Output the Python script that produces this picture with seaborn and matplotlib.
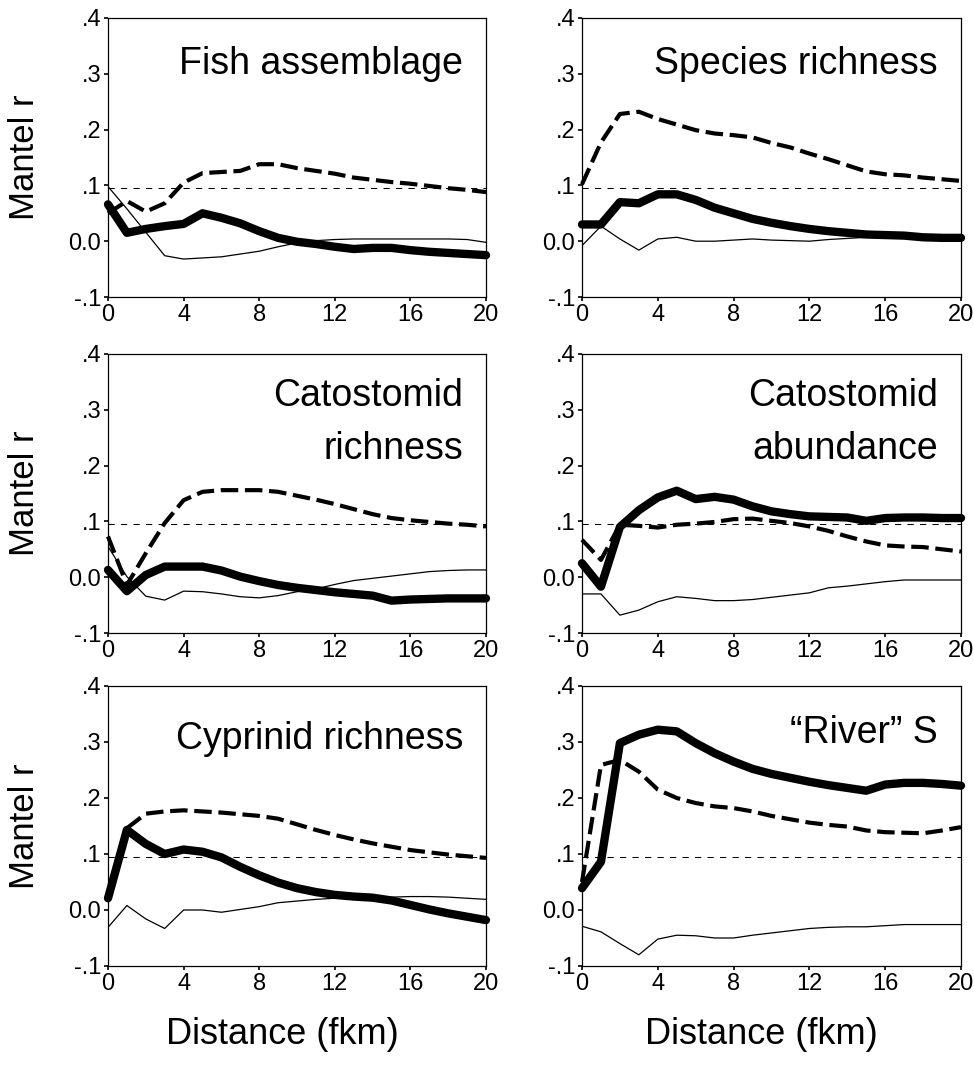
import matplotlib
matplotlib.use("Agg")
import matplotlib.pyplot as plt
import numpy as np
import pandas as pd
import seaborn as sns

# ---------------- data ----------------
distance_km = list(range(21))
critical_r = 0.095

panel_titles = ["Fish assemblage", "Species richness",
                "Catostomid\nrichness", "Catostomid\nabundance",
                "Cyprinid richness", "\u201cRiver\u201d S"]

fish_thick = [0.066, 0.015, 0.022, 0.027, 0.031, 0.050, 0.042, 0.032, 0.018, 0.006, -0.001,
              -0.005, -0.010, -0.014, -0.012, -0.012, -0.016, -0.019, -0.021, -0.023, -0.025]
fish_dashed = [0.050, 0.072, 0.053, 0.068, 0.105, 0.122, 0.124, 0.126, 0.138, 0.138, 0.131,
               0.126, 0.121, 0.114, 0.110, 0.106, 0.103, 0.099, 0.095, 0.092, 0.088]
fish_thin = [0.098, 0.058, 0.016, -0.026, -0.032, -0.030, -0.028, -0.023, -0.018, -0.010, -0.003,
             0.001, 0.003, 0.004, 0.004, 0.004, 0.004, 0.004, 0.004, 0.003, -0.002]

species_thick = [0.030, 0.030, 0.070, 0.068, 0.084, 0.084, 0.074, 0.060, 0.050, 0.040, 0.033,
                 0.027, 0.022, 0.018, 0.015, 0.012, 0.011, 0.010, 0.007, 0.006, 0.006]
species_dashed = [0.102, 0.177, 0.228, 0.232, 0.219, 0.209, 0.199, 0.193, 0.190, 0.186, 0.176,
                  0.168, 0.157, 0.147, 0.136, 0.125, 0.120, 0.118, 0.114, 0.111, 0.108]
species_thin = [-0.008, 0.027, 0.004, -0.016, 0.004, 0.007, 0.000, 0.000, 0.002, 0.004, 0.002,
                0.001, 0.000, 0.003, 0.005, 0.007, 0.007, 0.007, 0.007, 0.007, 0.007]

catrich_thick = [0.013, -0.025, 0.004, 0.019, 0.019, 0.019, 0.012, 0.001, -0.007, -0.014, -0.019,
                 -0.023, -0.027, -0.030, -0.033, -0.042, -0.040, -0.039, -0.038, -0.038, -0.038]
catrich_dashed = [0.073, -0.014, 0.043, 0.097, 0.138, 0.153, 0.156, 0.156, 0.156, 0.153, 0.146,
                  0.139, 0.131, 0.122, 0.113, 0.106, 0.102, 0.099, 0.096, 0.094, 0.091]
catrich_thin = [0.055, 0.001, -0.034, -0.041, -0.025, -0.026, -0.030, -0.035, -0.037, -0.033, -0.026,
                -0.021, -0.013, -0.006, -0.002, 0.002, 0.006, 0.010, 0.012, 0.013, 0.013]

catabund_thick = [0.025, -0.017, 0.090, 0.120, 0.143, 0.155, 0.140, 0.144, 0.139, 0.127, 0.118,
                  0.113, 0.109, 0.108, 0.107, 0.101, 0.106, 0.107, 0.107, 0.106, 0.106]
catabund_dashed = [0.067, 0.031, 0.094, 0.092, 0.089, 0.094, 0.096, 0.099, 0.104, 0.105, 0.101,
                   0.097, 0.091, 0.083, 0.073, 0.064, 0.057, 0.055, 0.054, 0.050, 0.046]
catabund_thin = [-0.030, -0.030, -0.068, -0.059, -0.044, -0.035, -0.038, -0.042, -0.042, -0.040, -0.036,
                 -0.032, -0.028, -0.019, -0.016, -0.012, -0.008, -0.005, -0.005, -0.005, -0.005]

cyprich_thick = [0.021, 0.143, 0.118, 0.100, 0.108, 0.104, 0.094, 0.077, 0.062, 0.049, 0.039,
                 0.032, 0.027, 0.024, 0.022, 0.017, 0.009, 0.001, -0.006, -0.012, -0.018]
cyprich_dashed = [0.021, 0.146, 0.172, 0.176, 0.178, 0.176, 0.174, 0.171, 0.168, 0.163, 0.153,
                  0.143, 0.134, 0.126, 0.119, 0.113, 0.107, 0.103, 0.099, 0.096, 0.093]
cyprich_thin = [-0.031, 0.008, -0.016, -0.033, 0.000, 0.000, -0.004, 0.001, 0.006, 0.013, 0.016,
                0.019, 0.021, 0.022, 0.023, 0.023, 0.024, 0.024, 0.023, 0.021, 0.019]

river_thick = [0.039, 0.086, 0.298, 0.313, 0.322, 0.319, 0.298, 0.280, 0.265, 0.252, 0.243,
               0.236, 0.229, 0.223, 0.218, 0.213, 0.224, 0.227, 0.227, 0.225, 0.222]
river_dashed = [0.050, 0.259, 0.268, 0.247, 0.215, 0.200, 0.191, 0.185, 0.182, 0.176, 0.168,
                0.162, 0.156, 0.152, 0.149, 0.142, 0.139, 0.138, 0.137, 0.142, 0.148]
river_thin = [-0.029, -0.039, -0.060, -0.080, -0.052, -0.045, -0.046, -0.050, -0.050, -0.045, -0.041,
              -0.037, -0.033, -0.031, -0.030, -0.030, -0.028, -0.026, -0.026, -0.026, -0.026]

y_ticks = [-0.1, 0.0, 0.1, 0.2, 0.3, 0.4]
y_tick_labels = ["-.1", "0.0", ".1", ".2", ".3", ".4"]
x_ticks = [0, 4, 8, 12, 16, 20]

panels = [
    (fish_thick, fish_dashed, fish_thin),
    (species_thick, species_dashed, species_thin),
    (catrich_thick, catrich_dashed, catrich_thin),
    (catabund_thick, catabund_dashed, catabund_thin),
    (cyprich_thick, cyprich_dashed, cyprich_thin),
    (river_thick, river_dashed, river_thin),
]

# ---------------- style ----------------
sns.set_style("white")
plt.rcParams["font.family"] = ["Liberation Sans", "DejaVu Sans"]
plt.rcParams["text.color"] = "black"
plt.rcParams["xtick.color"] = "black"
plt.rcParams["ytick.color"] = "black"
plt.rcParams["axes.labelcolor"] = "black"

W, H = 974, 1065
fig = plt.figure(figsize=(W / 100, H / 100), dpi=100)

col_px = [(108, 486), (582, 961)]
row_px = [(18, 297), (354, 633), (686, 966)]
# title baselines (px below axes top) for each panel
title_offsets = [[56], [56], [52, 105], [52, 105], [63], [57]]
xlabel_centers = [282, 761]

for i, (thick, dashed, thin) in enumerate(panels):
    r, c = divmod(i, 2)
    x0, x1 = col_px[c]
    y0, y1 = row_px[r]
    ax = fig.add_axes([x0 / W, 1 - y1 / H, (x1 - x0) / W, (y1 - y0) / H])
    df = pd.DataFrame({"d": distance_km, "thick": thick, "dashed": dashed, "thin": thin})

    ax.axhline(critical_r, color="black", lw=0.75, linestyle=(0, (6, 6)), zorder=1)
    sns.lineplot(data=df, x="d", y="thin", ax=ax, color="black", lw=0.9, zorder=2)
    sns.lineplot(data=df, x="d", y="dashed", ax=ax, color="black", lw=3.0,
                 linestyle=(0, (4.2, 1.6)), dash_capstyle="butt", zorder=3, clip_on=False)
    sns.lineplot(data=df, x="d", y="thick", ax=ax, color="black", lw=6.0,
                 solid_capstyle="round", solid_joinstyle="round", zorder=4, clip_on=False)

    ax.set_xlim(0, 20)
    ax.set_ylim(-0.1, 0.4)
    ax.set_xticks(x_ticks)
    ax.set_xticklabels([str(t) for t in x_ticks])
    ax.set_yticks(y_ticks)
    ax.set_yticklabels(y_tick_labels)
    ax.set_xlabel("")
    ax.set_ylabel("")
    ax.tick_params(axis="both", direction="out", length=3, width=1.2, color="black",
                   labelcolor="black", labelsize=17, pad=2, left=True, bottom=True)
    for s in ax.spines.values():
        s.set_color("black")
        s.set_linewidth(0.9)

    lines = panel_titles[i].split("\n")
    for line, off in zip(lines, title_offsets[i]):
        ax.text(1 - 23 / (x1 - x0), 1 - off / (y1 - y0), line, transform=ax.transAxes,
                ha="right", va="baseline", fontsize=27, color="black")

    if c == 0:
        fig.text(24 / W, 1 - ((y0 + y1) / 2) / H, "Mantel r", rotation=90,
                 ha="center", va="center", fontsize=25, color="black")

for cx in xlabel_centers:
    fig.text(cx / W, 1 - 1035 / H, "Distance (fkm)",
             ha="center", va="center", fontsize=26, color="black")

fig.savefig("out.png", dpi=100)
